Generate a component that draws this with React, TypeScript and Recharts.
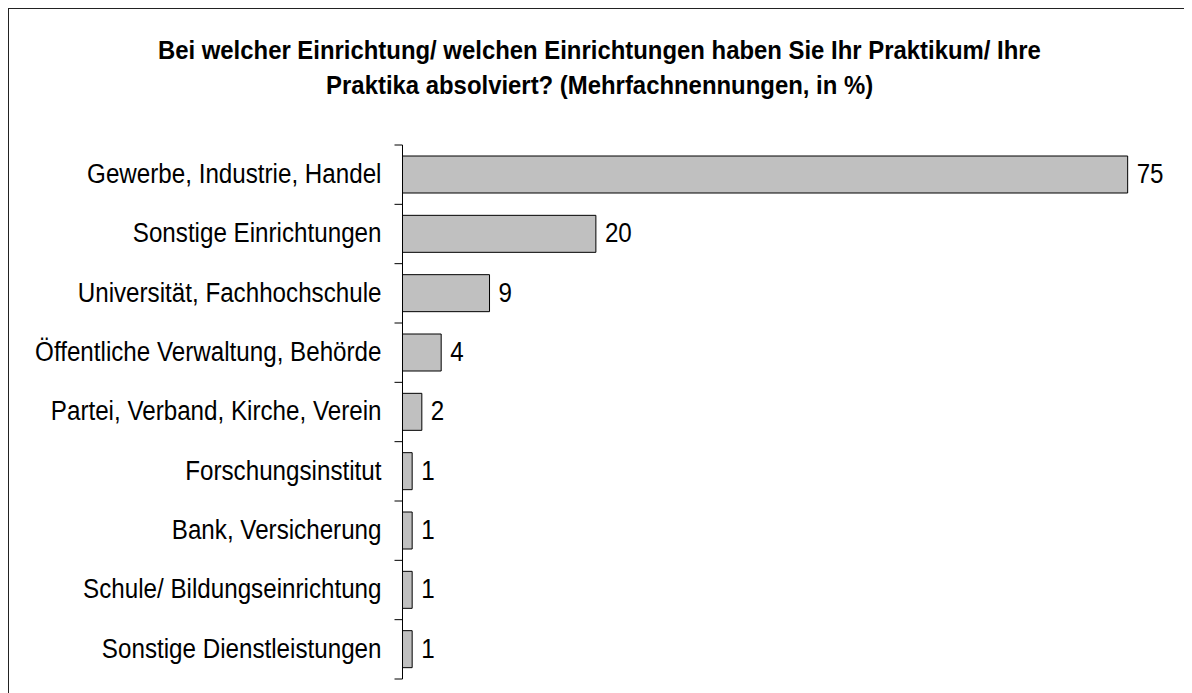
import React from "react";
import { BarChart, Bar, XAxis, YAxis, LabelList } from "recharts";

const categories = [
  "Gewerbe, Industrie, Handel",
  "Sonstige Einrichtungen",
  "Universität, Fachhochschule",
  "Öffentliche Verwaltung, Behörde",
  "Partei, Verband, Kirche, Verein",
  "Forschungsinstitut",
  "Bank, Versicherung",
  "Schule/ Bildungseinrichtung",
  "Sonstige Dienstleistungen",
];
const values = [75, 20, 9, 4, 2, 1, 1, 1, 1];
const titleLines = [
  "Bei welcher Einrichtung/ welchen Einrichtungen haben Sie Ihr Praktikum/ Ihre",
  "Praktika absolviert? (Mehrfachnennungen, in %)",
];

const data = categories.map((name, i) => ({ name, value: values[i] }));

const FONT = "'Liberation Sans', Arial, sans-serif";
const FS = 27;
const SX = 0.896;
const W = 1183;
const H = 684;
const TOP = 136;
const BOTTOM = 14;
const AXIS_X = 393.5;
const BAND = (H - TOP - BOTTOM) / categories.length;

const Tick = (props: any) => {
  const { y, payload, index } = props;
  const half = BAND / 2;
  return (
    <g>
      <line x1={AXIS_X - 8} x2={AXIS_X} y1={y - half} y2={y - half} stroke="#000" strokeWidth={1} />
      {index === categories.length - 1 && (
        <line x1={AXIS_X - 8} x2={AXIS_X} y1={y + half} y2={y + half} stroke="#000" strokeWidth={1} />
      )}
      <text
        transform={`translate(${AXIS_X - 21},${y - 1}) scale(${SX},1)`}
        x={0}
        y={0}
        textAnchor="end"
        dominantBaseline="central"
        fontFamily={FONT}
        fontSize={FS}
        fill="#000"
      >
        {payload.value}
      </text>
    </g>
  );
};

const ValueLabel = (props: any) => {
  const { x, y, width, height, value } = props;
  const tx = Number(x) + Number(width) + 9;
  const ty = Number(y) + Number(height) / 2 - 1;
  return (
    <text
      transform={`translate(${tx},${ty}) scale(${SX},1)`}
      x={0}
      y={0}
      textAnchor="start"
      dominantBaseline="central"
      fontFamily={FONT}
      fontSize={FS}
      fill="#000"
    >
      {value}
    </text>
  );
};

const titleLineStyle: React.CSSProperties = {
  display: "inline-block",
  transform: "scaleX(0.919)",
  transformOrigin: "center",
  whiteSpace: "nowrap",
};

export default function App() {
  return (
    <div
      style={{
        position: "relative",
        width: W + 1,
        height: H,
        borderTop: "1px solid #222",
        borderLeft: "1px solid #222",
        background: "#fff",
        overflow: "hidden",
      }}
    >
      <div
        style={{
          position: "absolute",
          top: 24,
          left: 0,
          width: W - 2,
          textAlign: "center",
          fontFamily: FONT,
          fontWeight: "bold",
          fontSize: 26,
          lineHeight: "35px",
          color: "#000",
        }}
      >
        <span style={titleLineStyle}>{titleLines[0]}</span>
        <br />
        <span style={titleLineStyle}>{titleLines[1]}</span>
      </div>
      <BarChart
        width={W}
        height={H}
        data={data}
        layout="vertical"
        margin={{ top: TOP, right: 16, bottom: BOTTOM, left: 0 }}
        barSize={37}
      >
        <XAxis type="number" domain={[0, 80]} hide />
        <YAxis
          type="category"
          dataKey="name"
          width={AXIS_X}
          axisLine={{ stroke: "#000", strokeWidth: 1 }}
          tickLine={false}
          tick={<Tick />}
          interval={0}
        />
        <Bar dataKey="value" fill="#C0C0C0" stroke="#000" strokeWidth={1} isAnimationActive={false}>
          <LabelList dataKey="value" content={<ValueLabel />} />
        </Bar>
      </BarChart>
    </div>
  );
}
